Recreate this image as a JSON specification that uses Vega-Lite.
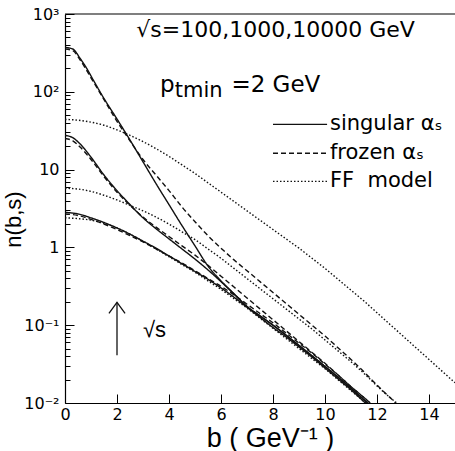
{
  "$schema": "https://vega.github.io/schema/vega-lite/v6.json",
  "width": 390,
  "height": 389,
  "autosize": {"type": "none"},
  "padding": {"left": 65, "top": 14, "right": 0, "bottom": 48},
  "background": "white",
  "config": {"view": {"stroke": null}, "font": "Liberation Sans"},
  "datasets": {
    "curves": [
      {"m": "singular", "s": "100",
       "b": [0,0.5,1,1.5,2,2.5,3,3.5,4,4.5,5,5.5,6,6.5,7,7.5,8,8.5,9,9.5,10,10.5,11,11.55],
       "n": [2.818,2.692,2.399,2.089,1.778,1.479,1.202,0.9772,0.7762,0.6166,0.4898,0.3890,0.3020,0.2291,0.1698,0.1259,0.09333,0.07079,0.05248,0.03890,0.02818,0.02042,0.01479,0.0100]},
      {"m": "singular", "s": "1000",
       "b": [0,0.3,0.58,1,1.5,2,2.5,3,3.5,4,4.5,5,5.5,6,6.5,7,7.5,8,9,10,11,11.64],
       "n": [27.54,25.70,21.38,14.45,8.511,5.370,3.548,2.399,1.738,1.288,0.9550,0.7079,0.5129,0.3631,0.2512,0.1738,0.1318,0.1000,0.05495,0.02951,0.01549,0.0100]},
      {"m": "singular", "s": "10000",
       "b": [0,0.3,0.58,0.8,1.09,1.47,2,2.5,3,3.5,4,4.5,5,5.5,6,6.5,7,7.5,8,9,10,11,11.64],
       "n": [371.5,354.8,269.2,208.9,141.3,85.11,44.67,23.99,12.59,6.607,3.548,1.905,1.047,0.5754,0.3715,0.2541,0.1738,0.1318,0.1000,0.05495,0.02951,0.01549,0.0100]},
      {"m": "frozen", "s": "100",
       "b": [0,0.5,1,1.5,2,2.5,3,3.5,4,4.5,5,5.5,6,6.5,7,7.5,8,8.5,9,9.5,10,10.5,11,11.5,11.74],
       "n": [2.692,2.570,2.291,1.995,1.698,1.413,1.175,0.9550,0.7762,0.6310,0.5012,0.3981,0.3162,0.2455,0.1862,0.1413,0.1072,0.07943,0.05888,0.04365,0.03162,0.02291,0.01622,0.01175,0.0100]},
      {"m": "frozen", "s": "1000",
       "b": [0,0.3,0.58,1,1.5,2,2.5,3,3.5,4,4.5,5,5.5,6,6.5,7,7.5,8,8.5,9,9.5,10,10.5,11,11.5,11.74],
       "n": [25.12,23.44,19.50,13.49,8.128,5.129,3.467,2.455,1.820,1.380,1.047,0.7943,0.5888,0.4266,0.3090,0.2239,0.1622,0.1175,0.08511,0.06166,0.04467,0.03236,0.02291,0.01622,0.01175,0.0100]},
      {"m": "frozen", "s": "10000",
       "b": [0,0.3,0.58,1,1.5,2,2.5,3,3.5,4,4.5,5,5.5,6,6.5,7,7.5,8,8.5,9,9.5,10,10.5,11,11.5,12,12.5,12.72],
       "n": [354.8,338.8,257.0,151.4,79.43,41.69,23.44,13.49,8.511,5.370,3.311,2.138,1.413,0.9772,0.6918,0.5012,0.3631,0.2630,0.1905,0.1380,0.1000,0.07244,0.05129,0.03631,0.02512,0.01698,0.01175,0.0100]},
      {"m": "FF", "s": "100",
       "b": [0,0.5,1,1.5,2,2.5,3,3.5,4,4.5,5,5.5,6,6.5,7,7.5,8,8.5,9,9.5,10,10.5,11,11.5,11.57],
       "n": [2.399,2.344,2.239,2.042,1.778,1.479,1.202,0.9550,0.7586,0.6026,0.4786,0.3715,0.2884,0.2188,0.1660,0.1230,0.09120,0.06761,0.05012,0.03715,0.02754,0.01995,0.01445,0.01047,0.0100]},
      {"m": "FF", "s": "1000",
       "b": [0,0.5,1,1.5,2,2.5,3,3.5,4,4.5,5,5.5,6,6.5,7,7.5,8,8.5,9,9.5,10,10.5,11,11.5,12,12.5,12.76],
       "n": [5.754,5.623,5.248,4.677,4.074,3.467,2.951,2.455,1.995,1.585,1.259,0.9550,0.7244,0.5370,0.3981,0.2951,0.2188,0.1622,0.1202,0.08913,0.06457,0.04677,0.03388,0.02399,0.01660,0.01175,0.0100]},
      {"m": "FF", "s": "10000",
       "b": [0,0.5,1,1.5,2,2.5,3,3.5,4,4.5,5,5.5,6,6.5,7,7.5,8,8.5,9,9.5,10,10.5,11,11.5,12,12.5,13,13.5,14,14.5,15],
       "n": [44.16,43.15,40.74,37.15,32.36,27.54,22.91,18.62,14.79,11.48,8.913,6.761,5.129,3.890,2.951,2.239,1.698,1.288,0.9772,0.7244,0.5370,0.3890,0.2818,0.2042,0.1445,0.1023,0.07244,0.05129,0.03631,0.02570,0.01820]}
    ],
    "legendLines": [
      {"m": "singular", "x0": 8.0, "x1": 10.08, "n": 38.1},
      {"m": "frozen", "x0": 8.0, "x1": 10.08, "n": 16.2},
      {"m": "FF", "x0": 8.0, "x1": 10.08, "n": 7.05}
    ],
    "legendText": [
      {"t": "singular αₛ", "b": 10.19, "n": 38.1},
      {"t": "frozen αₛ", "b": 10.19, "n": 16.2},
      {"t": "FF\u00a0\u00a0model", "b": 10.19, "n": 7.05}
    ],
    "arrow": [
      {"part": "stem", "o": 0, "b": 2, "n": 0.041},
      {"part": "stem", "o": 1, "b": 2, "n": 0.196},
      {"part": "head", "o": 0, "b": 1.69, "n": 0.142},
      {"part": "head", "o": 1, "b": 2, "n": 0.196},
      {"part": "head", "o": 2, "b": 2.31, "n": 0.142}
    ]
  },
  "layer": [
    {
      "data": {"name": "curves"},
      "transform": [{"flatten": ["b", "n"]}],
      "mark": {"type": "line", "color": "#111", "strokeWidth": 1.4, "interpolate": "monotone", "clip": true},
      "encoding": {
        "x": {
          "field": "b", "type": "quantitative", "title": "b ( GeV⁻¹ )",
          "scale": {"domain": [0, 15], "nice": false, "zero": false},
          "axis": {
            "titleFont": "Liberation Sans", "titleFontSize": 27, "titleFontWeight": "normal", "titleColor": "black",
            "titleBaseline": "alphabetic", "titleX": 205, "titleY": 43,
            "values": [0,0.5,1,1.5,2,2.5,3,3.5,4,4.5,5,5.5,6,6.5,7,7.5,8,8.5,9,9.5,10,10.5,11,11.5,12,12.5,13,13.5,14,14.5],
            "labelExpr": "datum.value % 2 === 0 ? format(datum.value, 'd') : ''",
            "labelFont": "DejaVu Sans", "labelFontSize": 16, "labelColor": "black", "labelPadding": 12,
            "labelOverlap": false, "labelFlush": false, "labelBound": false,
            "tickSize": {"condition": {"test": "datum.value % 2 === 0", "value": -9}, "value": -4},
            "tickColor": "black", "tickWidth": 1,
            "domainColor": "black", "domainWidth": 1.2, "grid": false
          }
        },
        "y": {
          "field": "n", "type": "quantitative", "title": "n(b,s)",
          "scale": {"type": "log", "domain": [0.01, 1000], "nice": false},
          "axis": {
            "titleFont": "Liberation Sans", "titleFontSize": 22, "titleFontWeight": "normal", "titleColor": "black",
            "titleBaseline": "bottom", "titleX": -40, "titleY": 205,
            "values": [0.01,0.02,0.03,0.04,0.05,0.06,0.07,0.08,0.09,0.1,0.2,0.3,0.4,0.5,0.6,0.7,0.8,0.9,1,2,3,4,5,6,7,8,9,10,20,30,40,50,60,70,80,90,100,200,300,400,500,600,700,800,900,1000],
            "labelExpr": "datum.value == 1000 ? '10³' : datum.value == 100 ? '10²' : datum.value == 10 ? '10' : datum.value == 1 ? '1' : datum.value == 0.1 ? '10⁻¹' : datum.value == 0.01 ? '10⁻²' : ''",
            "labelFont": "DejaVu Sans", "labelFontSize": 16, "labelColor": "black", "labelPadding": 15,
            "labelOverlap": false, "labelFlush": false, "labelBound": false,
            "tickSize": {"condition": {"test": "datum.value == 0.01 || datum.value == 0.1 || datum.value == 1 || datum.value == 10 || datum.value == 100 || datum.value == 1000", "value": -9}, "value": -5},
            "tickColor": "black", "tickWidth": 1,
            "domainColor": "black", "domainWidth": 1.2, "grid": false
          }
        },
        "strokeDash": {
          "field": "m", "type": "nominal",
          "scale": {"domain": ["singular", "frozen", "FF"], "range": [[1, 0], [5, 3], [1.5, 2]]},
          "legend": null
        },
        "detail": {"field": "s", "type": "nominal"}
      }
    },
    {
      "data": {"values": [{"n": 1000}]},
      "mark": {"type": "rule", "color": "black", "strokeWidth": 1.2},
      "encoding": {"y": {"field": "n", "type": "quantitative", "title": "n(b,s)"}}
    },
    {
      "data": {"name": "legendLines"},
      "mark": {"type": "rule", "color": "#111", "strokeWidth": 1.4},
      "encoding": {
        "x": {"field": "x0", "type": "quantitative", "title": "b ( GeV⁻¹ )"},
        "x2": {"field": "x1"},
        "y": {"field": "n", "type": "quantitative", "title": "n(b,s)"},
        "strokeDash": {"field": "m", "type": "nominal", "legend": null}
      }
    },
    {
      "data": {"name": "legendText"},
      "mark": {"type": "text", "align": "left", "baseline": "middle", "fontSize": 21, "font": "DejaVu Sans", "color": "black"},
      "encoding": {
        "x": {"field": "b", "type": "quantitative", "title": "b ( GeV⁻¹ )"},
        "y": {"field": "n", "type": "quantitative", "title": "n(b,s)"},
        "text": {"field": "t"}
      }
    },
    {
      "data": {"values": [{"t": "√s=100,1000,10000 GeV", "b": 8.1, "n": 500}]},
      "mark": {"type": "text", "align": "center", "baseline": "alphabetic", "fontSize": 22, "font": "DejaVu Sans", "color": "black"},
      "encoding": {
        "x": {"field": "b", "type": "quantitative", "title": "b ( GeV⁻¹ )"},
        "y": {"field": "n", "type": "quantitative", "title": "n(b,s)"},
        "text": {"field": "t"}
      }
    },
    {
      "data": {"values": [
        {"t": "p", "b": 3.65, "n": 98.2},
        {"t": "=2 GeV", "b": 6.4, "n": 98.2}
      ]},
      "mark": {"type": "text", "align": "left", "baseline": "alphabetic", "fontSize": 23, "font": "DejaVu Sans", "color": "black"},
      "encoding": {
        "x": {"field": "b", "type": "quantitative", "title": "b ( GeV⁻¹ )"},
        "y": {"field": "n", "type": "quantitative", "title": "n(b,s)"},
        "text": {"field": "t"}
      }
    },
    {
      "data": {"values": [{"t": "√s", "b": 3.0, "n": 0.0697}]},
      "mark": {"type": "text", "align": "left", "baseline": "alphabetic", "fontSize": 22, "font": "Liberation Sans", "color": "black"},
      "encoding": {
        "x": {"field": "b", "type": "quantitative", "title": "b ( GeV⁻¹ )"},
        "y": {"field": "n", "type": "quantitative", "title": "n(b,s)"},
        "text": {"field": "t"}
      }
    },
    {
      "data": {"values": [{"t": "tmin", "b": 4.22, "n": 84.7}]},
      "mark": {"type": "text", "align": "left", "baseline": "alphabetic", "fontSize": 21, "font": "DejaVu Sans", "color": "black"},
      "encoding": {
        "x": {"field": "b", "type": "quantitative", "title": "b ( GeV⁻¹ )"},
        "y": {"field": "n", "type": "quantitative", "title": "n(b,s)"},
        "text": {"field": "t"}
      }
    },
    {
      "data": {"name": "arrow"},
      "mark": {"type": "line", "color": "#111", "strokeWidth": 1.3},
      "encoding": {
        "x": {"field": "b", "type": "quantitative", "title": "b ( GeV⁻¹ )"},
        "y": {"field": "n", "type": "quantitative", "title": "n(b,s)"},
        "detail": {"field": "part", "type": "nominal"},
        "order": {"field": "o", "type": "quantitative"}
      }
    }
  ]
}
